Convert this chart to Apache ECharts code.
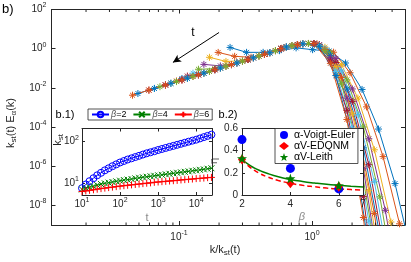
<!DOCTYPE html>
<html><head><meta charset="utf-8">
<script src="https://cdn.jsdelivr.net/npm/echarts@6/dist/echarts.min.js"></script>
<style>html,body{margin:0;padding:0;background:#fff}#c{width:411px;height:262px}</style>
</head><body><div id="c"></div>
<script>
// ---------- main panel b): k/k_st(t) vs k_st(t) E_alpha(k), one curve per time ----------
const mainX0 = [0.242, 0.322, 0.429, 0.570, 0.759, 1.01, 1.343, 1.786, 2.377, 3.162, 4.207, 5.6];
const mainY0 = [1.16, 0.65, 0.65, 0.79, 1.1, 0.89, 0.76, 0.186, 8.3e-3, 7.9e-5, 1.3e-7, 3.2e-11];
const mainX1 = [0.197, 0.262, 0.348, 0.463, 0.617, 0.820, 1.091, 1.452, 1.932, 2.570, 3.420, 4.550, 6.05];
const mainY1 = [0.646, 0.407, 0.363, 0.575, 1.13, 1.71, 1.78, 0.66, 0.0589, 1.07e-3, 3.1e-6, 1.15e-9, 5e-14];
const mainX2 = [0.1694, 0.2254, 0.2999, 0.3990, 0.5309, 0.7063, 0.9397, 1.250, 1.663, 2.213, 2.944, 3.917, 5.212];
const mainY2 = [0.363, 0.224, 0.24, 0.419, 0.792, 1.439, 1.845, 1.183, 0.153, 3.01e-3, 6.9e-6, 1.42e-9, 2e-14];
const mainX3 = [0.1538, 0.2046, 0.2723, 0.3622, 0.4819, 0.6412, 0.8531, 1.135, 1.510, 2.009, 2.673, 3.556, 4.732];
const mainY3 = [0.158, 0.132, 0.1875, 0.342, 0.622, 1.222, 1.766, 1.592, 0.318, 8.79e-3, 2.52e-5, 5.64e-9, 7.2e-14];
const mainX4 = [0.140, 0.186, 0.248, 0.330, 0.439, 0.583, 0.776, 1.033, 1.374, 1.828, 2.432, 3.236, 4.305];
const mainY4 = [0.089, 0.095, 0.154, 0.281, 0.511, 1.005, 1.626, 1.841, 0.604, 0.0255, 1.01e-4, 2.73e-8, 3.7e-13];
const mainX5 = [0.1274, 0.1694, 0.2254, 0.2999, 0.3990, 0.5309, 0.7063, 0.9397, 1.250, 1.663, 2.213, 2.944, 3.917];
const mainY5 = [0.056, 0.0693, 0.126, 0.230, 0.419, 0.792, 1.439, 1.845, 1.032, 0.0724, 4.38e-4, 1.62e-7, 2.6e-12];
const mainX6 = [0.1156, 0.1538, 0.2046, 0.2723, 0.3622, 0.4819, 0.6412, 0.8531, 1.135, 1.510, 2.009, 2.673, 3.556];
const mainY6 = [0.040, 0.0566, 0.103, 0.1875, 0.342, 0.622, 1.222, 1.766, 1.524, 0.196, 2.04e-3, 1.19e-6, 2.7e-11];
const mainX7 = [0.1052, 0.140, 0.186, 0.248, 0.330, 0.439, 0.583, 0.776, 1.033, 1.374, 1.828, 2.432, 3.236];
const mainY7 = [0.030, 0.0465, 0.0845, 0.154, 0.281, 0.511, 1.005, 1.626, 1.837, 0.456, 8.73e-3, 8.65e-6, 3.0e-10];
const mainX8 = [0.0957, 0.1274, 0.1694, 0.2254, 0.2999, 0.3990, 0.5309, 0.7063, 0.9397, 1.250, 1.663, 2.213, 2.944, 3.917];
const mainY8 = [0.0225, 0.0380, 0.0693, 0.126, 0.230, 0.419, 0.792, 1.439, 1.845, 0.90, 0.0342, 6.37e-5, 3.81e-9, 4.8e-15];
const mainX9 = [0.0869, 0.1156, 0.1538, 0.2046, 0.2723, 0.3622, 0.4819, 0.6412, 0.8531, 1.135, 1.510, 2.009, 2.673, 3.556];
const mainY9 = [0.0171, 0.0310, 0.0566, 0.103, 0.1875, 0.342, 0.622, 1.222, 1.766, 1.459, 0.121, 4.74e-4, 5.58e-8, 1.27e-13];
const mainX10 = [0.0791, 0.1052, 0.140, 0.186, 0.248, 0.330, 0.439, 0.583, 0.776, 1.033, 1.374, 1.828, 2.432, 3.236];
const mainY10 = [0.0140, 0.0255, 0.0465, 0.0845, 0.154, 0.281, 0.511, 1.005, 1.626, 1.832, 0.344, 2.99e-3, 7.43e-7, 3.3e-12];
const mainX11 = [0.0719, 0.0957, 0.1274, 0.1694, 0.2254, 0.2999, 0.3990, 0.5309, 0.7063, 0.9397, 1.250, 1.663, 2.213, 2.944];
const mainY11 = [0.01148, 0.0209, 0.0380, 0.0693, 0.126, 0.230, 0.419, 0.792, 1.439, 1.845, 0.785, 0.0162, 9.27e-6, 8.9e-11];
const mainX12 = [0.0653, 0.0869, 0.1156, 0.1538, 0.2046, 0.2723, 0.3622, 0.4819, 0.6412, 0.8531, 1.135, 1.510, 2.009, 2.673, 3.556];
const mainY12 = [9.35e-3, 0.0171, 0.0310, 0.0566, 0.103, 0.1875, 0.342, 0.622, 1.222, 1.766, 1.390, 0.0690, 8.61e-5, 1.58e-9, 2.5e-16];
const mainX13 = [0.0594, 0.0791, 0.1052, 0.140, 0.186, 0.248, 0.330, 0.439, 0.583, 0.776, 1.033, 1.374, 1.828, 2.432, 3.236];
const mainY13 = [7.67e-3, 0.0140, 0.0255, 0.0465, 0.0845, 0.154, 0.281, 0.511, 1.005, 1.626, 1.824, 0.237, 7.14e-4, 2.81e-8, 8.1e-15];
const mainX14 = [0.0491, 0.0653, 0.0869, 0.1156, 0.1538, 0.2046, 0.2723, 0.3622, 0.4819, 0.6412, 0.8531, 1.135, 1.510, 2.009, 2.673];
const mainY14 = [5.14e-3, 9.35e-3, 0.0171, 0.0310, 0.0566, 0.103, 0.1875, 0.342, 0.622, 1.222, 1.766, 1.330, 0.0426, 2.0e-5, 7.4e-11];
const mainX15 = [0.0447, 0.0594, 0.0791, 0.1052, 0.140, 0.186, 0.248, 0.330, 0.439, 0.583, 0.776, 1.033, 1.374, 1.828, 2.432, 3.236];
const mainY15 = [4.22e-3, 7.67e-3, 0.0140, 0.0255, 0.0465, 0.0845, 0.154, 0.281, 0.511, 1.005, 1.626, 1.82, 0.179, 2.44e-4, 2.41e-9, 8.9e-17];
const mainMinorTicks = [0.02, 0.03, 0.04, 0.05, 0.06, 0.07, 0.08, 0.09, 0.2, 0.3, 0.4, 0.5, 0.6, 0.7, 0.8, 0.9, 2, 3, 4];
const arrowStart = [0.2, 6.7];
const arrowEnd = [0.09, 0.2];

// ---------- inset b.1): k_st(t) ----------
const insetT = [10, 12.6, 15.8, 20, 25.1, 31.6, 39.8, 50.1, 63.1, 79.4, 100, 126, 158, 200, 251, 316, 398, 501, 631, 794,
  1000, 1259, 1585, 1995, 2512, 3162, 3981, 5012, 6310, 7943, 10000, 12589, 15849, 19953, 25119];
const kstBeta2 = [7.59, 9.33, 11.2, 13.2, 15.5, 17.8, 20.4, 22.9, 25.7, 28.5, 31.6, 34.3, 37.2, 39.8, 42.7, 45.7, 49.0, 52.5, 55.6, 58.9,
  63.1, 66.8, 70.8, 75.0, 79.4, 84.1, 89.1, 94.4, 100, 106, 112, 120, 129, 138, 148];
const kstBeta4 = [7.08, 7.52, 7.98, 8.47, 8.99, 9.55, 9.91, 10.3, 10.7, 11.1, 11.5, 11.9, 12.2, 12.6, 13.1, 13.5, 13.9, 14.3, 14.7, 15.1,
  15.5, 15.9, 16.4, 16.8, 17.3, 17.8, 18.3, 18.8, 19.3, 19.9, 20.4, 21.0, 21.6, 22.3, 22.9];
const kstBeta6 = [6.31, 6.52, 6.73, 6.95, 7.18, 7.41, 7.62, 7.83, 8.05, 8.28, 8.51, 8.71, 8.91, 9.12, 9.33, 9.55, 9.77, 10.0, 10.2, 10.5,
  10.7, 10.9, 11.1, 11.3, 11.5, 11.7, 12.0, 12.2, 12.4, 12.6, 12.9, 13.1, 13.3, 13.6, 13.8];
const b1Names = ['β=2', 'β=4', 'β=6'];

// ---------- inset b.2): eta vs beta ----------
const betaVals = [2, 4, 6];
const etaVoigtEuler = [0.5, 0.24, 0.055];
const etaEDQNM = [0.32, 0.105, 0.075];
const etaLeith = [0.33, 0.15, 0.085];
const fitBeta = [2, 2.25, 2.5, 2.75, 3, 3.5, 4, 4.5, 5, 5.5, 6, 6.5, 7];
const fitLeith = [0.32, 0.278, 0.245, 0.219, 0.198, 0.164, 0.140, 0.122, 0.108, 0.096, 0.087, 0.079, 0.072];
const fitEDQNM = [0.32, 0.265, 0.224, 0.192, 0.167, 0.131, 0.106, 0.087, 0.074, 0.063, 0.055, 0.049, 0.043];
const b2Names = ['α-Voigt-Euler', 'αV-EDQNM', 'αV-Leith'];

// ---------- styling ----------
const AX = '#262626';
const FONT = '"Liberation Sans", Arial, Helvetica, sans-serif';
const curveColors = ['#0072BD', '#D95319', '#EDB120', '#7E2F8E', '#77AC30', '#4DBEEE', '#A2142F'];
const ASTER = 'path://M5,0L5,10M0,5L10,5M1.5,1.5L8.5,8.5M1.5,8.5L8.5,1.5';
const CROSS = 'path://M0,0L10,10M0,10L10,0';
const PLUS = 'path://M5,0L5,10M0,5L10,5';
const RING = 'path://M10,5A5,5,0,1,1,0,5A5,5,0,1,1,10,5Z';
const STAR = 'path://M5,0L6.2,3.6L10,3.7L7,6L8.1,9.6L5,7.5L1.9,9.6L3,6L0,3.7L3.8,3.6Z';

const RICH_POW = {
  b: {fontSize: 10, fontFamily: FONT, color: AX},
  s: {fontSize: 7, fontFamily: FONT, color: AX, padding: [0, 0, 8, 0]}
};
function powLabel(evenOnly) {
  return function (v) {
    const l = Math.log10(v), e = Math.round(l);
    if (Math.abs(l - e) > 1e-6) return '';
    if (evenOnly && e % 2 !== 0) return '';
    return '{b|10}{s|' + e + '}';
  };
}
function axisBase(grid, pos, showLabel, extra) {
  const zl = grid === 0 ? 0 : 1;
  return Object.assign({
    gridIndex: grid, position: pos, zlevel: zl,
    axisLine: {show: true, onZero: false, lineStyle: {color: AX, width: 1}},
    axisTick: {show: true, inside: true, length: grid === 0 ? 4 : 3, lineStyle: {color: AX, width: 1}},
    axisLabel: {show: showLabel},
    splitLine: {show: false}, minorTick: {show: false}, minorSplitLine: {show: false}
  }, extra);
}
function logAx(grid, pos, min, max, base, showLabel, evenOnly, margin) {
  const a = axisBase(grid, pos, showLabel, {type: 'log', logBase: base, min: min, max: max});
  if (showLabel) a.axisLabel = {show: true, formatter: powLabel(evenOnly), rich: RICH_POW, margin: margin, color: AX};
  return a;
}
function valAx(grid, pos, min, max, interval, showLabel, margin) {
  const a = axisBase(grid, pos, showLabel, {type: 'value', min: min, max: max, interval: interval});
  if (showLabel) a.axisLabel = {show: true, margin: margin, color: AX, fontSize: 10, fontFamily: FONT};
  return a;
}

const mainCurves = [[mainX0, mainY0], [mainX1, mainY1], [mainX2, mainY2], [mainX3, mainY3], [mainX4, mainY4],
  [mainX5, mainY5], [mainX6, mainY6], [mainX7, mainY7], [mainX8, mainY8], [mainX9, mainY9], [mainX10, mainY10],
  [mainX11, mainY11], [mainX12, mainY12], [mainX13, mainY13], [mainX14, mainY14], [mainX15, mainY15]];

const series = [];
mainCurves.forEach(function (cv, i) {
  const c = curveColors[i % curveColors.length];
  const s = {
    type: 'line', xAxisIndex: 0, yAxisIndex: 0, zlevel: 0, z: 2,
    data: cv[0].map(function (x, j) { return [x, cv[1][j]]; }),
    symbol: ASTER, symbolSize: 7, showSymbol: true,
    lineStyle: {color: c, width: 1},
    itemStyle: {color: c, borderColor: c, borderWidth: 1},
    clip: true, silent: true
  };
  if (i === 0) {
    s.markLine = {
      silent: true, symbol: ['none', 'arrow'], symbolSize: [6, 8],
      lineStyle: {color: '#000', width: 1, type: 'solid'}, label: {show: false},
      data: [[{coord: arrowStart}, {coord: arrowEnd}]]
    };
  }
  series.push(s);
});
// minor ticks of the main log x axis (bottom and top edges)
series.push({
  type: 'custom', xAxisIndex: 0, yAxisIndex: 0, zlevel: 0, z: 10, silent: true, clip: false,
  data: mainMinorTicks.map(function (v) { return [v, 1]; }),
  encode: {x: 0, y: 1},
  renderItem: function (params, api) {
    const v = api.value(0);
    const b = api.coord([v, 1e-9]);
    const t = api.coord([v, 100]);
    return {type: 'group', children: [
      {type: 'line', shape: {x1: b[0], y1: b[1], x2: b[0], y2: b[1] - 2.5}, style: {stroke: AX, lineWidth: 1}},
      {type: 'line', shape: {x1: t[0], y1: t[1], x2: t[0], y2: t[1] + 2.5}, style: {stroke: AX, lineWidth: 1}}
    ]};
  }
});
// inset b.1
const b1Data = [[kstBeta2, '#0000FF', RING, 7], [kstBeta4, '#008000', CROSS, 6], [kstBeta6, '#FF0000', PLUS, 7]];
b1Data.forEach(function (d, i) {
  series.push({
    type: 'line', name: b1Names[i], xAxisIndex: 2, yAxisIndex: 2, zlevel: 1, z: 3 + i,
    data: insetT.map(function (t, j) { return [t, d[0][j]]; }),
    symbol: d[2], symbolSize: d[3], showSymbol: true,
    lineStyle: {color: d[1], width: 1},
    itemStyle: {color: 'rgba(0,0,0,0)', borderColor: d[1], borderWidth: 1},
    clip: true, silent: true
  });
});
// inset b.2 fit curves
series.push({
  type: 'line', xAxisIndex: 4, yAxisIndex: 4, zlevel: 1, z: 3, smooth: true, showSymbol: false, symbol: 'none',
  data: fitBeta.map(function (b, j) { return [b, fitLeith[j]]; }),
  lineStyle: {color: '#008000', width: 1.5}, silent: true
});
series.push({
  type: 'line', xAxisIndex: 4, yAxisIndex: 4, zlevel: 1, z: 3, smooth: true, showSymbol: false, symbol: 'none',
  data: fitBeta.map(function (b, j) { return [b, fitEDQNM[j]]; }),
  lineStyle: {color: '#FF0000', width: 1.5, type: [5, 3]}, silent: true
});
const b2Data = [[etaVoigtEuler, '#0000FF', 'circle', 9], [etaEDQNM, '#FF0000', 'diamond', [8, 10]], [etaLeith, '#008000', STAR, 10]];
b2Data.forEach(function (d, i) {
  series.push({
    type: 'scatter', name: b2Names[i], xAxisIndex: 4, yAxisIndex: 4, zlevel: 1, z: 4 + i,
    data: betaVals.map(function (b, j) { return [b, d[0][j]]; }),
    symbol: d[2], symbolSize: d[3],
    itemStyle: {color: d[1], borderWidth: 0, opacity: 1}, silent: true
  });
});

const option = {
  animation: false,
  backgroundColor: '#fff',
  textStyle: {fontFamily: FONT},
  grid: [
    {left: 51.5, top: 9.5, width: 353.5, height: 215.5, show: false},
    {left: 82, top: 128.5, width: 130, height: 66.5, show: true, backgroundColor: '#fff', borderWidth: 0, zlevel: 1},
    {left: 242, top: 128.5, width: 121, height: 66.5, show: true, backgroundColor: '#fff', borderWidth: 0, zlevel: 1}
  ],
  xAxis: [
    logAx(0, 'bottom', 0.011, 5, 10, true, false, 5),
    logAx(0, 'top', 0.011, 5, 10, false),
    logAx(1, 'bottom', 10, 26000, 10, true, false, 2),
    logAx(1, 'top', 10, 26000, 10, false),
    valAx(2, 'bottom', 2, 7, 2, true, 4),
    valAx(2, 'top', 2, 7, 2, false)
  ],
  yAxis: [
    logAx(0, 'left', 1e-9, 100, 100, true, true, 5),
    logAx(0, 'right', 1e-9, 100, 100, false),
    logAx(1, 'left', 5.2, 208, 10, true, false, 3),
    logAx(1, 'right', 5.2, 208, 10, false),
    valAx(2, 'left', 0, 0.6, 0.2, true, 4),
    valAx(2, 'right', 0, 0.6, 0.2, false)
  ],
  legend: [
    {
      data: b1Names, left: 88, top: 109, orient: 'horizontal', zlevel: 1, selectedMode: false,
      itemWidth: 17, itemHeight: 7, itemGap: 6, padding: [1, 3, 1, 3],
      borderColor: AX, borderWidth: 0.8, backgroundColor: '#fff', borderRadius: 0,
      formatter: function (n) { return '{g|β}' + n.slice(1); },
      textStyle: {fontSize: 9, fontFamily: FONT, color: '#000', padding: [0, 0, 0, -3],
        rich: {g: {fontSize: 9, fontStyle: 'italic', color: '#555', fontFamily: FONT}}}
    },
    {
      data: b2Names, left: 275, top: 128.5, orient: 'vertical', zlevel: 1, selectedMode: false,
      itemWidth: 10, itemHeight: 8, itemGap: 0, padding: [1, 3, 1, 4], align: 'left',
      borderColor: AX, borderWidth: 0.8, backgroundColor: '#fff', borderRadius: 0,
      textStyle: {fontSize: 10.5, lineHeight: 10, fontFamily: FONT, color: '#000'}
    }
  ],
  graphic: {elements: [
    {type: 'text', zlevel: 1, x: 2, y: 9, style: {text: 'b)', fontSize: 13, fontFamily: FONT, fill: '#000', verticalAlign: 'middle'}},
    {type: 'text', zlevel: 1, x: 193, y: 33, style: {text: 't', fontSize: 12, fontFamily: FONT, fill: '#000', align: 'center', verticalAlign: 'middle'}},
    {type: 'text', zlevel: 1, x: 65, y: 114.5, style: {text: 'b.1)', fontSize: 11, fontFamily: FONT, fill: '#000', align: 'center', verticalAlign: 'middle'}},
    {type: 'text', zlevel: 1, x: 228, y: 115, style: {text: 'b.2)', fontSize: 11, fontFamily: FONT, fill: '#000', align: 'center', verticalAlign: 'middle'}},
    {type: 'text', zlevel: 1, x: 225, y: 250, style: {text: 'k/k{s|st}(t)', fontSize: 11, fontFamily: FONT, fill: AX, align: 'center', verticalAlign: 'middle',
      rich: {s: {fontSize: 8, fontFamily: FONT, fill: AX, padding: [6, 0, 0, 0]}}}},
    {type: 'text', zlevel: 1, x: 11, y: 123, rotation: Math.PI / 2, style: {text: 'k{s|st}(t) E{s|α}(k)', fontSize: 11, fontFamily: FONT, fill: AX, align: 'center', verticalAlign: 'middle',
      rich: {s: {fontSize: 8, fontFamily: FONT, fill: AX, padding: [6, 0, 0, 0]}}}},
    {type: 'text', zlevel: 1, x: 147, y: 218, style: {text: 't', fontSize: 11, fontFamily: FONT, fill: '#8a8a8a', align: 'center', verticalAlign: 'middle'}},
    {type: 'text', zlevel: 1, x: 58, y: 140, rotation: Math.PI / 2, style: {text: 'k{s|st}', fontSize: 11, fontFamily: FONT, fill: AX, align: 'center', verticalAlign: 'middle',
      rich: {s: {fontSize: 8, fontFamily: FONT, fill: AX, padding: [6, 0, 0, 0]}}}},
    {type: 'text', zlevel: 1, x: 302, y: 217, style: {text: 'β', fontSize: 11, fontStyle: 'italic', fontFamily: FONT, fill: '#8a8a8a', align: 'center', verticalAlign: 'middle'}},
    {type: 'text', zlevel: 1, x: 214, y: 161, rotation: Math.PI / 2, style: {text: 'η', fontSize: 11, fontFamily: FONT, fill: '#666', align: 'center', verticalAlign: 'middle'}}
  ]},
  series: series
};
const chart = echarts.init(document.getElementById('c'), null, {renderer: 'canvas'});
chart.setOption(option);
</script></body></html>
